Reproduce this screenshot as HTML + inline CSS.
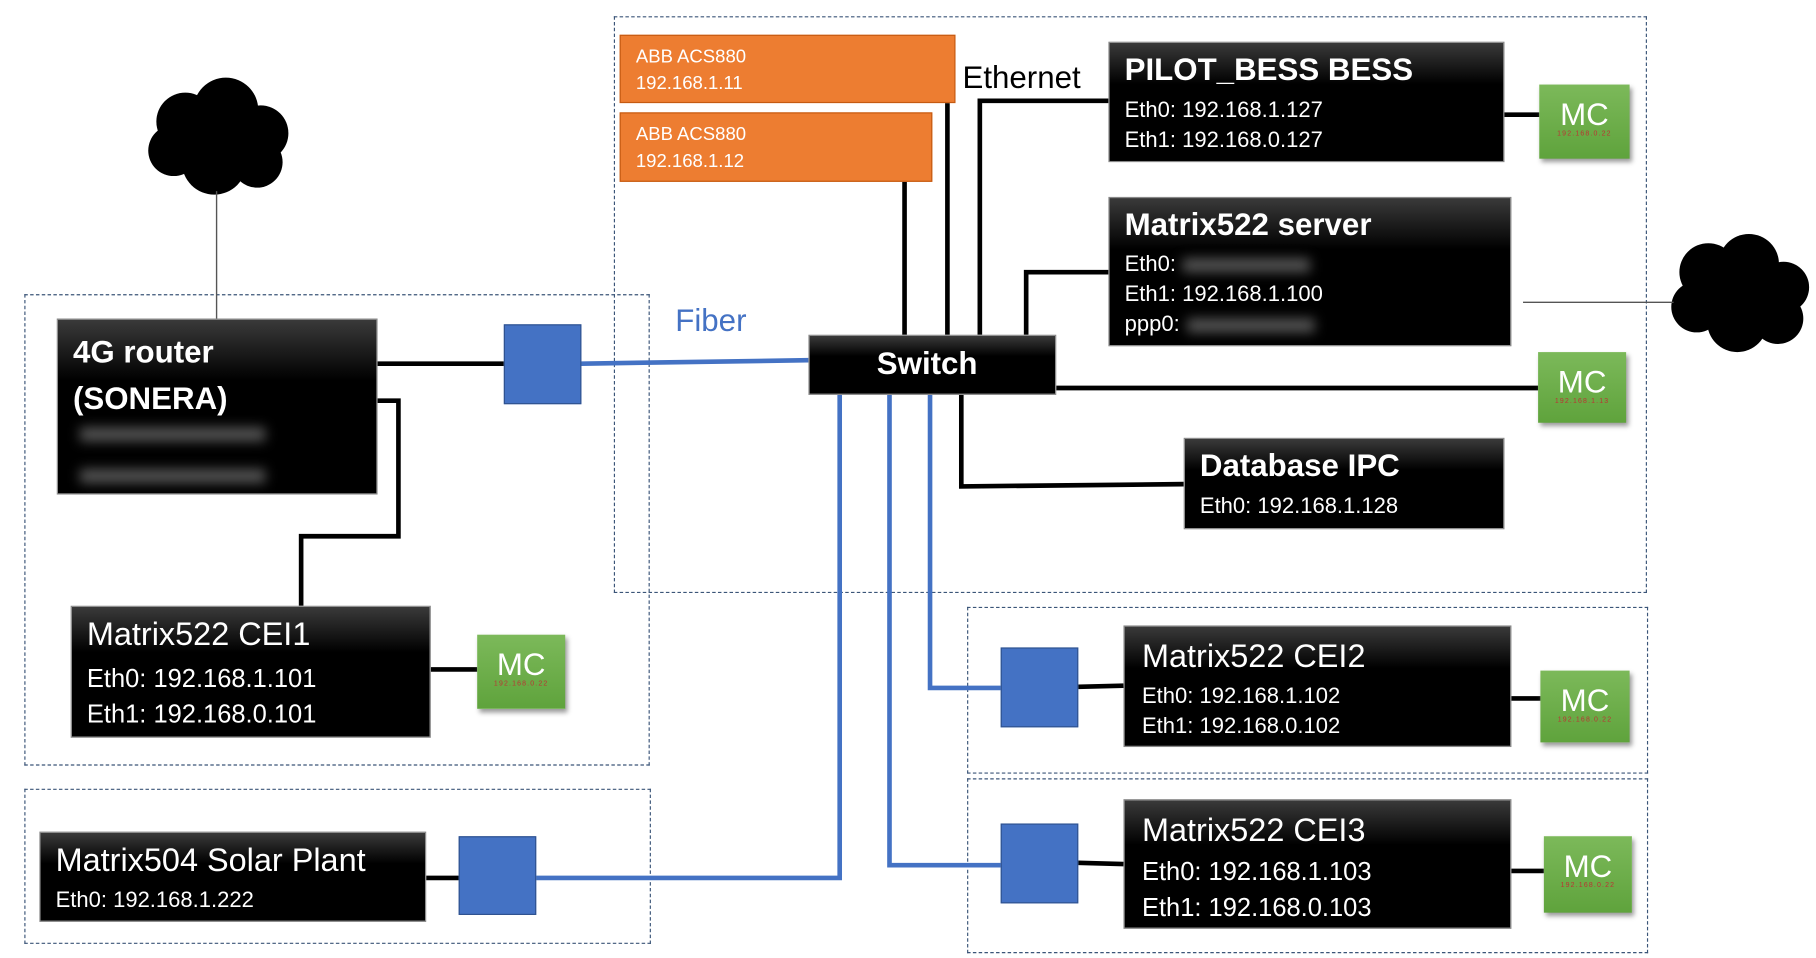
<!DOCTYPE html>
<html><head><meta charset="utf-8"><style>
html,body{margin:0;padding:0;background:#fff;width:1816px;height:958px;overflow:hidden}
#w{position:absolute;left:0;top:0;width:1568px;height:827px;transform:scale(1.1582);transform-origin:0 0;font-family:"Liberation Sans",sans-serif}
.a{position:absolute;box-sizing:border-box}
.d{border:1.7px dashed #3b5578}
.k{background:linear-gradient(#3a3a3a,#000 35%);color:#fff;border:1px solid #888}
.t{position:absolute;left:13px;color:#fff;white-space:nowrap}
.mc{background:linear-gradient(#7cb95a,#5fa33c);color:#fff;text-align:center;box-shadow:2px 3px 4px #999}
.mc b{display:block;font-weight:normal;font-size:27px;margin-top:12px;line-height:28px}
.mc i{display:block;font-style:normal;font-size:6px;color:#b33;letter-spacing:1px}
.bl{background:#4472c4;border:1px solid #2f528f}
.blur{display:inline-block;width:110px;height:12px;background:#555;filter:blur(5px);vertical-align:middle;margin-left:6px}
.o{background:#ed7d31;color:#fff;font-size:16px;padding:7px 13px;line-height:23px;border:1px solid #c55a11}
</style></head><body><div id="w">
<div class="a d" style="left:530px;top:14px;width:892px;height:498px"></div>
<div class="a d" style="left:21px;top:254px;width:540px;height:407px"></div>
<div class="a d" style="left:21px;top:681px;width:541px;height:134px"></div>
<div class="a d" style="left:835px;top:524px;width:588px;height:144px"></div>
<div class="a d" style="left:835px;top:672px;width:588px;height:151px"></div>

<svg class="a" style="left:0;top:0" width="1568" height="827">
<g fill="#000">
<circle cx="160" cy="105" r="25"/><circle cx="195" cy="95" r="28"/><circle cx="225" cy="115" r="24"/><circle cx="150" cy="130" r="22"/><circle cx="185" cy="140" r="28"/><circle cx="222" cy="140" r="22"/>
<circle cx="1475" cy="235" r="25"/><circle cx="1510" cy="228" r="26"/><circle cx="1540" cy="248" r="22"/><circle cx="1465" cy="265" r="22"/><circle cx="1500" cy="278" r="26"/><circle cx="1535" cy="275" r="22"/><circle cx="1500" cy="255" r="25"/>
</g>
<g stroke="#555" stroke-width="1.2" fill="none"><line x1="187" y1="165" x2="187" y2="275"/><line x1="1315" y1="261" x2="1445" y2="261"/></g>
<g stroke="#000" stroke-width="4" fill="none">
<line x1="326" y1="314" x2="435" y2="314"/>
<polyline points="326,346 344,346 344,463 260,463 260,523"/>
<line x1="372" y1="578" x2="412" y2="578"/>
<line x1="368" y1="758" x2="396" y2="758"/>
<line x1="781" y1="157" x2="781" y2="289"/>
<line x1="818" y1="89" x2="818" y2="289"/>
<polyline points="846,289 846,87 957,87"/>
<polyline points="886,289 886,235 957,235"/>
<line x1="1299" y1="99" x2="1329" y2="99"/>
<line x1="912" y1="335" x2="1328" y2="335"/>
<polyline points="830,341 830,420 1022,418"/>
<line x1="931" y1="593" x2="970" y2="592"/>
<line x1="1305" y1="603" x2="1330" y2="603"/>
<line x1="931" y1="745" x2="970" y2="746"/>
<line x1="1305" y1="752" x2="1333" y2="752"/>
</g>
<g stroke="#4472c4" stroke-width="4" fill="none">
<line x1="502" y1="314" x2="698" y2="311"/>
<polyline points="725,341 725,758 463,758"/>
<polyline points="768,341 768,747 864,747"/>
<polyline points="803,341 803,594 864,594"/>
</g>
</svg>

<div class="a" style="left:583px;top:262px;color:#4472c4;font-size:27px">Fiber</div>
<div class="a" style="left:831px;top:52px;font-size:27px">Ethernet</div>

<div class="a k" style="left:49px;top:275px;width:277px;height:152px"><div class="t" style="top:8px;font-size:27px;font-weight:bold;line-height:40px">4G router<br>(SONERA)</div><div class="t" style="top:90px"><span class="blur" style="width:160px"></span><br><br><span class="blur" style="width:160px"></span></div></div>
<div class="a bl" style="left:435px;top:280px;width:67px;height:69px"></div>
<div class="a k" style="left:698px;top:289px;width:214px;height:52px"><div class="t" style="left:58px;top:9px;font-size:27px;font-weight:bold">Switch</div></div>

<div class="a o" style="left:535px;top:30px;width:290px;height:59px">ABB ACS880<br>192.168.1.11</div>
<div class="a o" style="left:535px;top:97px;width:270px;height:60px">ABB ACS880<br>192.168.1.12</div>

<div class="a k" style="left:957px;top:36px;width:342px;height:104px"><div class="t" style="top:8px;font-size:27px;font-weight:bold">PILOT_BESS BESS</div><div class="t" style="top:46px;font-size:19px;line-height:26px">Eth0: 192.168.1.127<br>Eth1: 192.168.0.127</div></div>
<div class="a mc" style="left:1329px;top:73px;width:78px;height:64px"><b>MC</b><i>192.168.0.22</i></div>

<div class="a k" style="left:957px;top:170px;width:348px;height:129px"><div class="t" style="top:8px;font-size:27px;font-weight:bold">Matrix522 server</div><div class="t" style="top:45px;font-size:19px;line-height:26px">Eth0:<span class="blur"></span><br>Eth1: 192.168.1.100<br>ppp0:<span class="blur"></span></div></div>
<div class="a mc" style="left:1328px;top:304px;width:76px;height:61px"><b>MC</b><i>192.168.1.13</i></div>

<div class="a k" style="left:1022px;top:378px;width:277px;height:79px"><div class="t" style="top:8px;font-size:27px;font-weight:bold">Database IPC</div><div class="t" style="top:48px;font-size:19px">Eth0: 192.168.1.128</div></div>

<div class="a k" style="left:61px;top:523px;width:311px;height:114px"><div class="t" style="top:8px;font-size:28px">Matrix522 CEI1</div><div class="t" style="top:46px;font-size:22px;line-height:31px">Eth0: 192.168.1.101<br>Eth1: 192.168.0.101</div></div>
<div class="a mc" style="left:412px;top:548px;width:76px;height:64px"><b>MC</b><i>192.168.0.22</i></div>

<div class="a k" style="left:34px;top:718px;width:334px;height:78px"><div class="t" style="top:8px;font-size:28px">Matrix504 Solar Plant</div><div class="t" style="top:48px;font-size:19px">Eth0: 192.168.1.222</div></div>
<div class="a bl" style="left:396px;top:722px;width:67px;height:68px"></div>

<div class="a bl" style="left:864px;top:559px;width:67px;height:69px"></div>
<div class="a k" style="left:970px;top:540px;width:335px;height:105px"><div class="t" style="left:15px;top:10px;font-size:28px">Matrix522 CEI2</div><div class="t" style="left:15px;top:48px;font-size:19px;line-height:26px">Eth0: 192.168.1.102<br>Eth1: 192.168.0.102</div></div>
<div class="a mc" style="left:1330px;top:579px;width:77px;height:62px"><b>MC</b><i>192.168.0.22</i></div>

<div class="a bl" style="left:864px;top:711px;width:67px;height:69px"></div>
<div class="a k" style="left:970px;top:690px;width:335px;height:112px"><div class="t" style="left:15px;top:10px;font-size:28px">Matrix522 CEI3</div><div class="t" style="left:15px;top:46px;font-size:22px;line-height:31px">Eth0: 192.168.1.103<br>Eth1: 192.168.0.103</div></div>
<div class="a mc" style="left:1333px;top:722px;width:76px;height:66px"><b>MC</b><i>192.168.0.22</i></div>
</div></body></html>
